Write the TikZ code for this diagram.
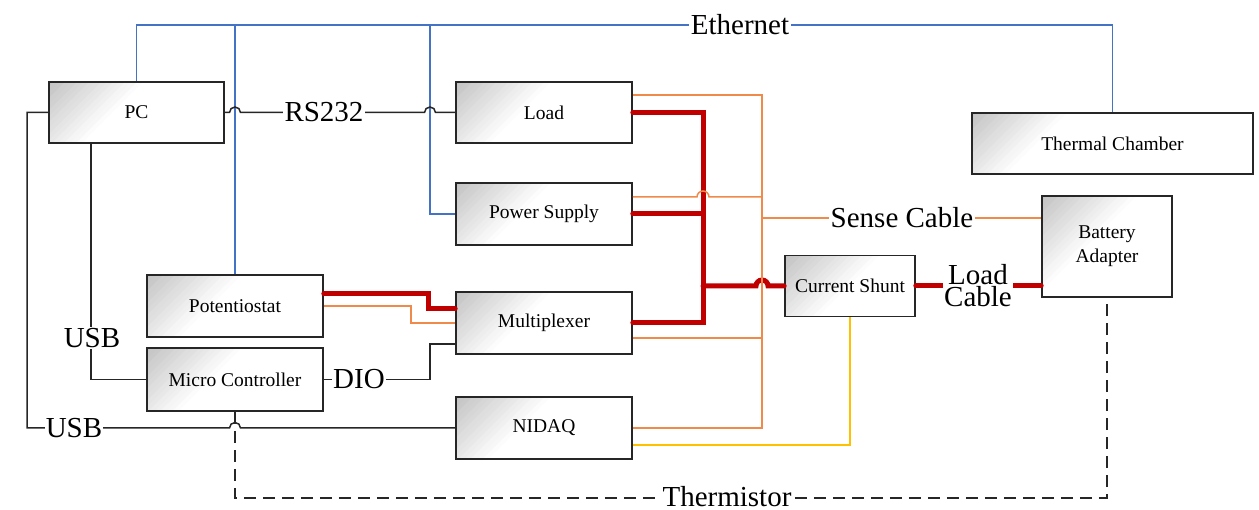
\documentclass[tikz,border=0pt]{standalone}
\usepackage{fontspec}
\setmainfont{Liberation Serif}
\usetikzlibrary{calc}
\definecolor{ethblue}{HTML}{4472C4}
\definecolor{pwrred}{HTML}{C00000}
\definecolor{senseor}{HTML}{F08A4B}
\definecolor{thermyel}{HTML}{FFC000}
\definecolor{linegray}{HTML}{262626}
\tikzset{
  box/.style={draw=linegray, line width=1.6pt, fill=white, inner sep=0pt, align=center,
    font=\fontsize{19.5}{24}\selectfont,
    path picture={
      \foreach \i in {1,...,16}{
        \pgfmathtruncatemacro\L{100-6*\i}
        \pgfmathtruncatemacro\c{3*\i/2}
        \fill[black!\c] (path picture bounding box.north west) -- ++(\L pt,0pt) -- ++(-\L pt,-\L pt) -- cycle;
      }}},
  sig/.style={draw=linegray, line width=1.5pt},
  eth/.style={draw=ethblue, line width=1.5pt},
  pwr/.style={draw=pwrred, line width=5pt, line cap=round},
  sense/.style={draw=senseor, line width=1.5pt},
  yel/.style={draw=thermyel, line width=1.5pt},
  therm/.style={draw=linegray, line width=1.5pt, dash pattern=on 12pt off 7pt},
  lbl/.style={fill=white, inner sep=2pt, font=\fontsize{29}{22}\selectfont, align=center}
}
\begin{document}
\begin{tikzpicture}[x=1pt, y=-1pt]
\useasboundingbox (0,0) rectangle (1259,510);
% boxes
\node[box, minimum width=175pt, minimum height=61pt] (pc) at (136.5,112.5) {PC};
\node[box, minimum width=176pt, minimum height=61pt] (load) at (544,112.5) {Load};
\node[box, minimum width=176pt, minimum height=62pt] (ps) at (544,214) {Power Supply};
\node[box, minimum width=176pt, minimum height=62pt] (mux) at (544,323) {Multiplexer};
\node[box, minimum width=176pt, minimum height=62pt] (nidaq) at (544,428) {NIDAQ};
\node[box, minimum width=176pt, minimum height=62pt] (pot) at (235,306) {Potentiostat};
\node[box, minimum width=176pt, minimum height=63pt] (mc) at (235,379.5) {Micro Controller};
\node[box, minimum width=281pt, minimum height=61pt] (tc) at (1112.5,143.5) {Thermal Chamber};
\node[box, minimum width=130pt, minimum height=101pt] (ba) at (1107,246.5) {Battery\\Adapter};
\node[box, minimum width=130pt, minimum height=61pt] (cs) at (850,286) {Current Shunt};

% Ethernet
\coordinate (e1) at (235,25);
\coordinate (e2) at (430,25);
\draw[eth] (pc.north) -- (pc.north |- e1) -| (tc.north);
\draw[eth] (e1) -- (pot.north);
\draw[eth] (e2) |- (ps.west);

% RS232
\draw[sig] (pc.east) -- (229.5,112.5) arc[start angle=180, end angle=0, radius=5.5pt] -- (424.5,112.5) arc[start angle=180, end angle=0, radius=5.5pt] -- (load.west);

% USB PC -> NIDAQ
\draw[sig] (pc.west) -- (27,112.5) |- (229.5,428) arc[start angle=180, end angle=0, radius=5.5pt] -- (nidaq.west);
% USB PC -> Micro Controller
\draw[sig] ([xshift=-45.5pt]pc.south) |- (mc.west);
% DIO
\draw[sig] (mc.east) -| (430,344) -- ([yshift=-21pt]mux.west);
% Thermistor
\draw[therm] (mc.south) -- (235,498) -| (ba.south);

% power (red)
\draw[pwr] (load.east) -- (703,112.5) -- (703,323) -- (mux.east);
\draw[pwr] (ps.east) -- (703,214);
\draw[pwr] (703,286) -- (756,286) arc[start angle=180, end angle=0, radius=6pt] -- (cs.west);
\draw[pwr] ([yshift=12pt]pot.east) -| (428,309) -- ([yshift=14pt]mux.west);
\draw[pwr] (cs.east) -- (cs.east -| ba.west);

% sense (orange)
\draw[sense] ([yshift=17.5pt]load.east) -- (762,95) |- (nidaq.east);
\draw[sense] ([yshift=17pt]ps.east) -- (697,197) arc[start angle=180, end angle=0, radius=6pt] -- (762,197);
\draw[sense] (762,218) -- ([yshift=28.5pt]ba.west);
\draw[sense] ([yshift=-15pt]mux.east) -- (762,338);
\draw[sense] (pot.east) -- (411,306) |- (mux.west);

% yellow
\draw[yel] (cs.south) |- ([yshift=-17pt]nidaq.east);

% labels
\node[lbl] (lEth) at (740,25) {Ethernet};
\node[lbl] (lRS) at (324,112.5) {RS232};
\node[lbl] (lSense) at (902,218) {Sense Cable};
\node[lbl, inner sep=1pt] (lLoad) at (978,286) {Load\\Cable};
\node[lbl, inner sep=1pt] (lUSB1) at (92,338) {USB};
\node[lbl, inner sep=1pt] (lUSB2) at (74,428) {USB};
\node[lbl, inner sep=1pt] (lDIO) at (359,379.5) {DIO};
\node[lbl, inner sep=1pt] (lTherm) at (727,497) {Thermistor};
\end{tikzpicture}
\end{document}
